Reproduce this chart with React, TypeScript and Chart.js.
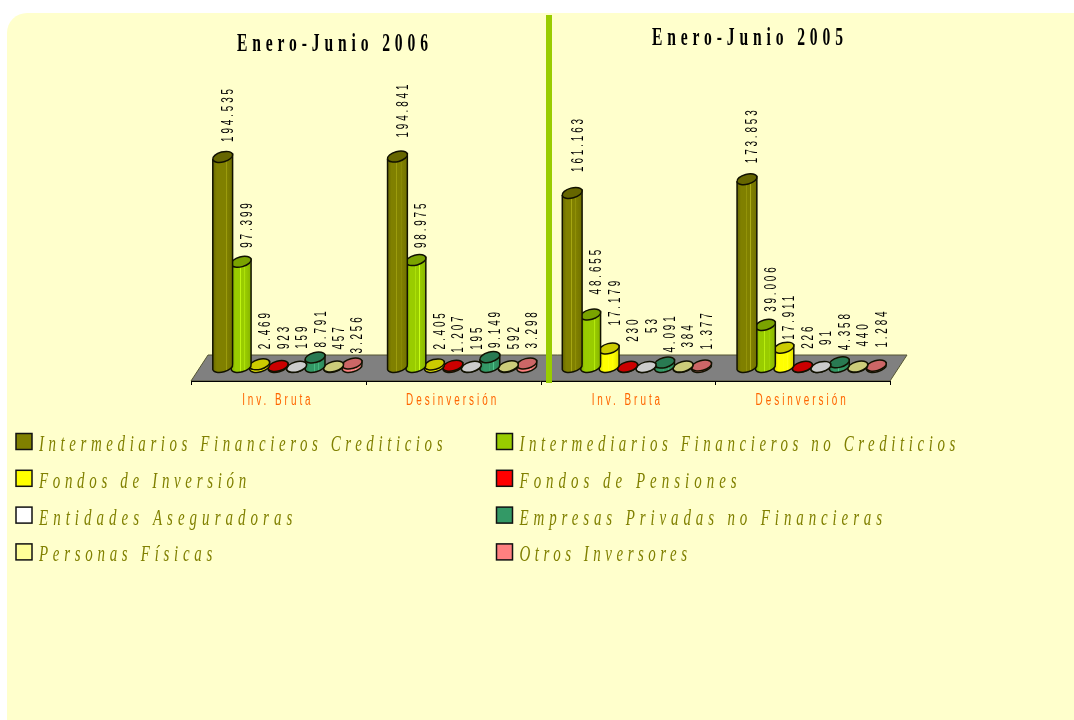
import React, { useEffect, useRef } from "react";
import { Chart, registerables } from "chart.js";

Chart.register(...registerables);

const categories = ["Inv. Bruta", "Desinversión", "Inv. Bruta", "Desinversión"];
const seriesNames = [
  "Intermediarios Financieros Crediticios",
  "Intermediarios Financieros no Crediticios",
  "Fondos de Inversión",
  "Fondos de Pensiones",
  "Entidades Aseguradoras",
  "Empresas Privadas no Financieras",
  "Personas Físicas",
  "Otros Inversores",
];
const creditIntermediaries = [194535, 194841, 161163, 173853];
const otherIntermediaries = [97399, 98975, 48655, 39006];
const investmentFunds = [2469, 2405, 17179, 17911];
const pensionFunds = [923, 1207, 230, 226];
const insurers = [159, 195, 53, 91];
const privateCompanies = [8791, 9149, 4091, 4358];
const individuals = [457, 592, 384, 440];
const otherInvestors = [3256, 3298, 1377, 1284];
const seriesValues = [
  creditIntermediaries,
  otherIntermediaries,
  investmentFunds,
  pensionFunds,
  insurers,
  privateCompanies,
  individuals,
  otherInvestors,
];
const panelTitles = ["Enero-Junio 2006", "Enero-Junio 2005"];

const seriesColors = ["#808000", "#99CC00", "#FFFF00", "#FF0000", "#FFFFFF", "#339966", "#FFFF99", "#FF8080"];
const capColors = ["#666600", "#7AA300", "#CCCC00", "#CC0000", "#CCCCCC", "#297A52", "#CCCC7A", "#CC6666"];
const legendSpacing = [7.05, 7.05, 7.2, 7.7, 7.75, 7.53, 7.25, 6.95];
// Lift of each value label over its cylinder top (manual label placement in the original)
const labelLift = [
  [15, 19, 21, 16],
  [14, 12, 20, 13],
  [15, 15, 23, 8],
  [17, 13, 25, 18],
  [18, 17, 34, 22],
  [10, 9, 10, 12],
  [17, 17, 19, 20],
  [10, 15, 16, 18],
];

const fmt = (v: number) => String(v).replace(/\B(?=(\d{3})+$)/g, ".");
const DEPTH_X = 9;
const RX_EXTRA = 1;
const RY = 5;
const TILT = -0.26;

function shade(hex: string, k: number) {
  const n = parseInt(hex.slice(1), 16);
  const f = (c: number) => Math.min(255, Math.round(c * k + (k > 1 ? (k - 1) * 120 : 0)));
  return `rgb(${f((n >> 16) & 255)},${f((n >> 8) & 255)},${f(n & 255)})`;
}

function drawCylinder(ctx: CanvasRenderingContext2D, cx: number, top: number, base: number, w: number, color: string, cap: string) {
  const rx = w / 2 + RX_EXTRA;
  const dx = rx * Math.cos(TILT);
  const dy = rx * Math.sin(TILT);
  const g = ctx.createLinearGradient(cx - dx, 0, cx + dx, 0);
  g.addColorStop(0, shade(color, 0.82));
  g.addColorStop(0.2, color);
  g.addColorStop(0.44, color);
  g.addColorStop(0.46, shade(color, 1.18));
  g.addColorStop(0.49, color);
  g.addColorStop(0.66, color);
  g.addColorStop(0.68, shade(color, 1.18));
  g.addColorStop(0.71, color);
  g.addColorStop(1, shade(color, 0.88));
  ctx.beginPath();
  ctx.moveTo(cx - dx, top - dy);
  ctx.lineTo(cx - dx, base - dy);
  ctx.ellipse(cx, base, rx, RY, TILT, Math.PI, 0, true);
  ctx.lineTo(cx + dx, top + dy);
  ctx.closePath();
  ctx.fillStyle = g;
  ctx.fill();
  ctx.lineWidth = 1.5;
  ctx.strokeStyle = "#111100";
  ctx.stroke();
  ctx.beginPath();
  ctx.ellipse(cx, top, rx, RY, TILT, 0, Math.PI * 2);
  ctx.fillStyle = cap;
  ctx.fill();
  ctx.stroke();
}

function squeezedText(ctx: CanvasRenderingContext2D, text: string, x: number, y: number, sx: number) {
  ctx.save();
  ctx.translate(x, y);
  ctx.scale(sx, 1);
  ctx.fillText(text, 0, 0);
  ctx.restore();
}

const cylinderChartPlugin = {
  id: "cylinderChart",
  beforeDatasetsDraw(chart: any) {
    const { ctx, chartArea, scales } = chart;
    const front = chartArea.bottom + 14;
    const back = chartArea.bottom - 12;
    ctx.save();
    ctx.beginPath();
    ctx.moveTo(chartArea.left, front);
    ctx.lineTo(chartArea.right, front);
    ctx.lineTo(chartArea.right + 17, back);
    ctx.lineTo(chartArea.left + 17, back);
    ctx.closePath();
    ctx.fillStyle = "#808080";
    ctx.fill();
    ctx.strokeStyle = "#555533";
    ctx.lineWidth = 1;
    ctx.stroke();
    ctx.beginPath();
    ctx.moveTo(chartArea.left, front + 0.5);
    ctx.lineTo(chartArea.right, front + 0.5);
    const step = (chartArea.right - chartArea.left) / categories.length;
    for (let i = 0; i <= categories.length; i++) {
      const x = Math.round(scales.x.left + i * step) + 0.5;
      ctx.moveTo(x, front);
      ctx.lineTo(x, front + 4);
    }
    ctx.strokeStyle = "#000000";
    ctx.stroke();
    // category labels
    ctx.font = '16px "Liberation Sans"';
    ctx.letterSpacing = "4.8px";
    ctx.fillStyle = "#FF6600";
    ctx.textAlign = "center";
    ctx.textBaseline = "alphabetic";
    categories.forEach((c, i) => {
      squeezedText(ctx, scales.x.getLabelForValue(i), scales.x.getPixelForTick(i) - 0.5, front + 24, 0.62);
    });
    ctx.restore();
  },
  beforeDatasetDraw(chart: any, args: any) {
    const { ctx } = chart;
    const i = args.index;
    ctx.save();
    args.meta.data.forEach((bar: any) => {
      drawCylinder(ctx, bar.x + DEPTH_X, bar.y, bar.base, bar.width, seriesColors[i], capColors[i]);
    });
    ctx.restore();
    return false;
  },
  afterDatasetsDraw(chart: any) {
    const { ctx } = chart;
    ctx.save();
    // value labels
    ctx.font = '16px "Liberation Sans"';
    ctx.fillStyle = "#000000";
    ctx.letterSpacing = "4.6px";
    ctx.textAlign = "left";
    ctx.textBaseline = "middle";
    chart.data.datasets.forEach((ds: any, i: number) => {
      chart.getDatasetMeta(i).data.forEach((bar: any, j: number) => {
        ctx.save();
        ctx.translate(bar.x + DEPTH_X + 6, bar.y - labelLift[i][j]);
        ctx.rotate(-Math.PI / 2);
        ctx.scale(0.62, 1);
        ctx.fillText(fmt(ds.data[j]), 0, 0);
        ctx.restore();
      });
    });
    // separator between both periods
    ctx.fillStyle = "#99CC00";
    ctx.fillRect(546, 15, 6, 368);
    // panel titles
    ctx.textAlign = "left";
    ctx.textBaseline = "alphabetic";
    ctx.fillStyle = "#000000";
    ctx.font = 'bold 26px "Liberation Serif"';
    ctx.letterSpacing = "8.1px";
    squeezedText(ctx, panelTitles[0], 237, 51, 0.6);
    squeezedText(ctx, panelTitles[1], 652, 45, 0.6);
    // legend
    chart.data.datasets.forEach((ds: any, i: number) => {
      const col = i % 2;
      const row = Math.floor(i / 2);
      const x = col === 0 ? 16 : 496.5;
      const y = 433.5 + row * 36.8;
      ctx.fillStyle = ds.backgroundColor;
      ctx.fillRect(x, y, 16, 16);
      ctx.lineWidth = 1.5;
      ctx.strokeStyle = "#111111";
      ctx.strokeRect(x, y, 16, 16);
      ctx.fillStyle = "#808000";
      ctx.font = 'italic 23px "Liberation Serif"';
      ctx.letterSpacing = `${legendSpacing[i]}px`;
      squeezedText(ctx, ds.label, x + 23, y + 17.5, 0.65);
    });
    ctx.restore();
  },
};

export default function App() {
  const ref = useRef<HTMLCanvasElement>(null);
  useEffect(() => {
    const chart = new Chart(ref.current!, {
      type: "bar",
      data: {
        labels: categories,
        datasets: seriesNames.map((label, i) => ({
          label,
          data: seriesValues[i],
          backgroundColor: seriesColors[i],
          barPercentage: 1,
          categoryPercentage: 0.846,
        })),
      },
      options: {
        responsive: false,
        animation: false,
        devicePixelRatio: 1,
        layout: { padding: { left: 191, right: 184, top: 97, bottom: 353 } },
        plugins: { legend: { display: false }, title: { display: false }, tooltip: { enabled: false } },
        scales: {
          x: {
            grid: { display: false, drawTicks: false },
            border: { display: false },
            afterFit(scale: any) {
              scale.height = 0;
            },
            ticks: { display: false },
          },
          y: { display: false, min: 0, max: 250000 },
        },
      },
      plugins: [cylinderChartPlugin],
    } as any);
    return () => chart.destroy();
  }, []);
  return (
    <div style={{ position: "fixed", inset: 0, background: "#FFFFFF", overflow: "hidden" }}>
      <div
        style={{
          position: "absolute",
          left: 7,
          top: 13,
          width: 1067,
          height: 707,
          background: "#FFFFCC",
          borderTopLeftRadius: 20,
        }}
      />
      <canvas ref={ref} width={1074} height={720} style={{ position: "absolute", left: 0, top: 0, display: "block" }} />
    </div>
  );
}
